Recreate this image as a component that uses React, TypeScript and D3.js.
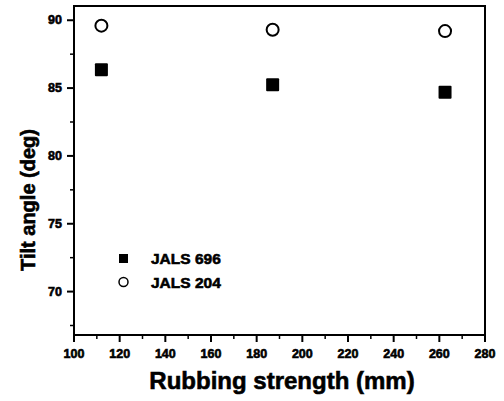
import React from "react";
import * as d3 from "d3";

const rubbing = [112, 187, 262.5];
const jals696 = [86.35, 85.25, 84.7];
const jals204 = [89.6, 89.3, 89.2];
const xTicks = [100, 120, 140, 160, 180, 200, 220, 240, 260, 280];
const yTicks = [70, 75, 80, 85, 90];
const xMinor = d3.range(110, 280, 20);
const yMinor = [67.5, 72.5, 77.5, 82.5, 87.5];

const W = 504, H = 401;
const L = 74, R = 485, T = 6, B = 335;

export default function App() {
  const x = d3.scaleLinear().domain([100, 280]).range([L, R]);
  const y = d3.scaleLinear().domain([66.8, 91.05]).range([B, T]);
  const font = "'Liberation Sans', Arial, sans-serif";
  const heavy = { stroke: "#000", strokeWidth: 0.6 } as const;
  return (
    <svg width={W} height={H} style={{ position: "absolute", left: 0, top: 0 }} fontFamily={font}>
      <rect x={0} y={0} width={W} height={H} fill="#fff" />
      <rect x={L} y={T} width={R - L} height={B - T} fill="none" stroke="#000" strokeWidth={2} />
      {xTicks.map((t) => (
        <g key={"xt" + t}>
          <line x1={x(t)} x2={x(t)} y1={B} y2={B + 7} stroke="#000" strokeWidth={2} />
          <text x={x(t)} y={358} textAnchor="middle" fontSize={12.5} fontWeight="bold" {...heavy}>{t}</text>
        </g>
      ))}
      {xMinor.map((t) => (
        <line key={"xm" + t} x1={x(t)} x2={x(t)} y1={B} y2={B + 4} stroke="#000" strokeWidth={1.5} />
      ))}
      {yTicks.map((t) => (
        <g key={"yt" + t}>
          <line x1={L - 7} x2={L} y1={y(t)} y2={y(t)} stroke="#000" strokeWidth={2} />
          <text x={62} y={y(t) + 4} textAnchor="end" fontSize={12.5} fontWeight="bold" {...heavy}>{t}</text>
        </g>
      ))}
      {yMinor.map((t) => (
        <line key={"ym" + t} x1={L - 4} x2={L} y1={y(t)} y2={y(t)} stroke="#000" strokeWidth={1.5} />
      ))}
      {rubbing.map((r, i) => (
        <rect key={"s" + i} x={x(r) - 6.5} y={y(jals696[i]) - 6.5} width={13} height={13} fill="#000" rx={1} />
      ))}
      {rubbing.map((r, i) => (
        <circle key={"c" + i} cx={x(r)} cy={y(jals204[i])} r={6} fill="#fff" stroke="#000" strokeWidth={2} />
      ))}
      <rect x={119} y={254} width={9} height={9} fill="#000" />
      <circle cx={123.5} cy={282} r={4.5} fill="#fff" stroke="#000" strokeWidth={1.5} />
      <text x={151} y={264} fontSize={15.5} fontWeight="bold" {...heavy}>JALS 696</text>
      <text x={151} y={288} fontSize={15.5} fontWeight="bold" {...heavy}>JALS 204</text>
      <text x={282} y={389} textAnchor="middle" fontSize={24} fontWeight="bold" {...heavy}>Rubbing strength (mm)</text>
      <text transform={`translate(35,200) rotate(-90)`} textAnchor="middle" fontSize={20} fontWeight="bold" {...heavy}>Tilt angle (deg)</text>
    </svg>
  );
}
